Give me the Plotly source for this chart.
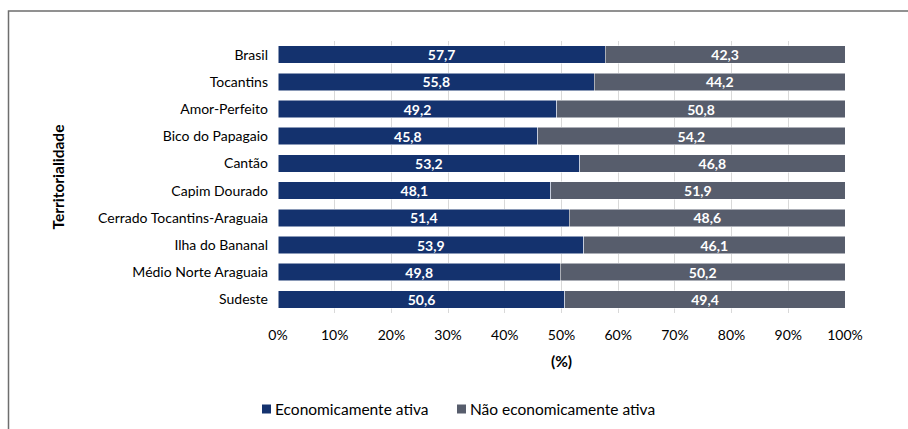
import plotly.graph_objects as go

# Share of population by economic activity, per territory (%)
territorios = [
    "Brasil", "Tocantins", "Amor-Perfeito", "Bico do Papagaio", "Cantão",
    "Capim Dourado", "Cerrado Tocantins-Araguaia", "Ilha do Bananal",
    "Médio Norte Araguaia", "Sudeste",
]
ativa = [57.7, 55.8, 49.2, 45.8, 53.2, 48.1, 51.4, 53.9, 49.8, 50.6]
nao_ativa = [42.3, 44.2, 50.8, 54.2, 46.8, 51.9, 48.6, 46.1, 50.2, 49.4]
x_ticks = [0, 10, 20, 30, 40, 50, 60, 70, 80, 90, 100]
series_names = ["Economicamente ativa", "Não economicamente ativa"]

FONT = "Lato"
BLUE = "#14326E"
GRAY = "#575D6C"
colors = [BLUE, GRAY]

fig = go.Figure()
for name, vals, col in zip(series_names, [ativa, nao_ativa], colors):
    fig.add_trace(go.Bar(
        y=territorios, x=vals, orientation="h", name=name,
        marker=dict(color=col, line=dict(color="white", width=0.5)),
        texttemplate="<b>%{x:.1f}</b>", textposition="inside",
        insidetextanchor="middle", textangle=0, constraintext="none",
        textfont=dict(color="white", size=14, family=FONT),
        showlegend=False,
    ))

L, R, T, B = 278, 63, 41, 116
W, H = 908, 429
pw, ph = W - L - R, H - T - B

def px_x(px):
    return (px - L) / pw

def px_y(py):
    return (H - B - py) / ph

fig.update_layout(
    width=W, height=H,
    barmode="stack", bargap=0.355,
    separators=",.",
    margin=dict(l=L, r=R, t=T, b=B),
    paper_bgcolor="white", plot_bgcolor="white",
    font=dict(family=FONT, size=14, color="#000000"),
    showlegend=False,
)
fig.update_xaxes(
    range=[0, 100], tickvals=x_ticks, ticktext=[f"{v}%" for v in x_ticks],
    showgrid=True, gridcolor="#D9D9D9", gridwidth=1,
    zeroline=False, showline=False, ticks="", ticklabelstandoff=12,
    tickfont=dict(size=14, family=FONT),
    title=dict(text="<b>(%)</b>", font=dict(size=15.5, family=FONT), standoff=14),
)
fig.update_yaxes(
    categoryorder="array", categoryarray=territorios, autorange="reversed",
    showgrid=False, ticks="", ticklabelstandoff=9,
    tickfont=dict(size=14, family=FONT),
    title=dict(text="<b>Territorialidade</b>", font=dict(size=15.5, family=FONT), standoff=29),
)

# Legend drawn as swatches with labels below the plot
legend_x = [262, 457]
legend_y = 409
for name, col, lx in zip(series_names, colors, legend_x):
    fig.add_shape(type="rect", xref="paper", yref="paper",
                  x0=px_x(lx), x1=px_x(lx + 9), y0=px_y(legend_y + 4.5), y1=px_y(legend_y - 4.5),
                  fillcolor=col, line=dict(width=0))
    fig.add_annotation(text=name, xref="paper", yref="paper",
                       x=px_x(lx + 11), y=px_y(legend_y), xanchor="left", yanchor="middle",
                       showarrow=False, font=dict(size=15.5, family=FONT, color="#000000"))

# Chart frame
fig.add_shape(type="rect", xref="paper", yref="paper",
              x0=px_x(8.5), x1=px_x(W + 20),
              y0=px_y(H + 20), y1=px_y(11),
              line=dict(color="#6E6E6E", width=1.5), layer="below")

fig.write_html("out.html")
